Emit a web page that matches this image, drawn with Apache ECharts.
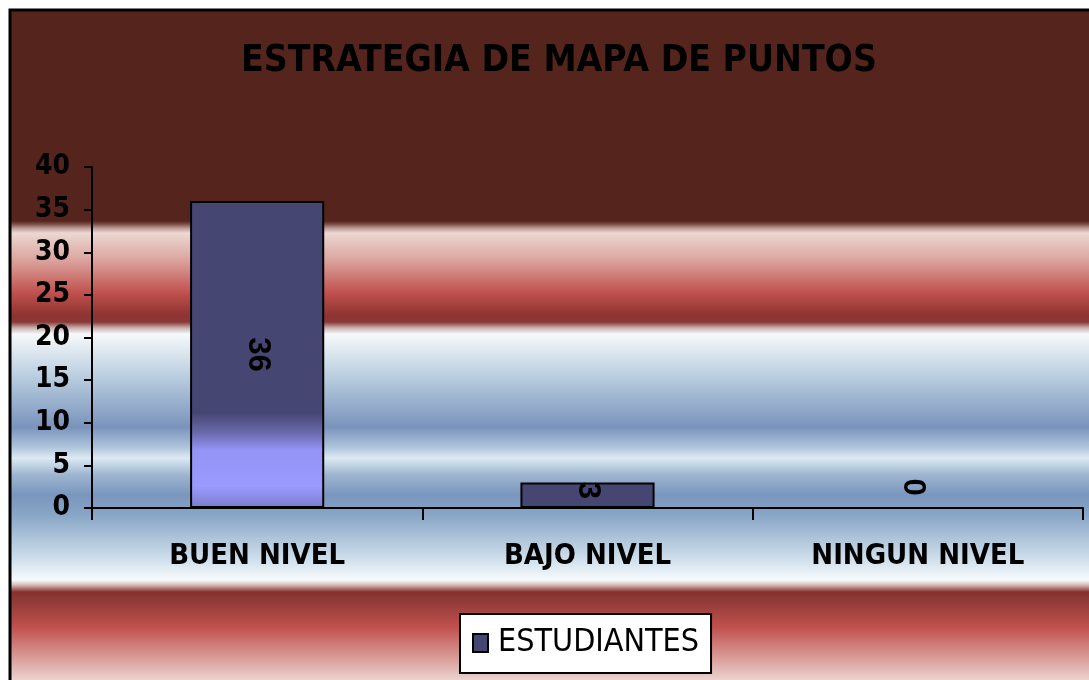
<!DOCTYPE html>
<html>
<head>
<meta charset="utf-8">
<script src="https://cdn.jsdelivr.net/npm/echarts@6/dist/echarts.min.js"></script>
<style>
html,body{margin:0;padding:0;background:#fff;}
#chart{width:1089px;height:680px;}
</style>
</head>
<body>
<div id="chart"></div>
<script>
const title = 'ESTRATEGIA DE MAPA DE PUNTOS';
const categories = ['BUEN NIVEL', 'BAJO NIVEL', 'NINGUN NIVEL'];
const seriesName = 'ESTUDIANTES';
const values = [36, 3, 0];
const yMin = 0, yMax = 40, yInterval = 5;

const NARROW = "'Liberation Sans Narrow', 'DejaVu Sans Condensed', 'Liberation Sans', sans-serif";
const WIDE = "'Liberation Sans', Arial, sans-serif";
const barColor = '#464673';

const chart = echarts.init(document.getElementById('chart'));

function stop(y, c) { return { offset: (y - 10) / 670, color: c }; }
const bgGradient = new echarts.graphic.LinearGradient(0, 0, 0, 1, [
  stop(10, '#55251d'), stop(221, '#55251d'), stop(224, '#7a4a44'), stop(228, '#b89892'),
  stop(233, '#ecd8d2'), stop(260, '#dba49e'), stop(293, '#c0504d'), stop(315, '#8e3432'),
  stop(322, '#8a3836'), stop(328, '#c8b2b0'), stop(334, '#f6f9fb'), stop(380, '#b5cadd'),
  stop(427, '#7a93bc'), stop(447, '#adc4da'), stop(458, '#dde9f3'), stop(475, '#9db5d0'),
  stop(495, '#7a96be'), stop(515, '#88a6c6'), stop(560, '#d0e0ec'), stop(580, '#f8fafc'),
  stop(585, '#d6bcb8'), stop(592, '#86302d'), stop(600, '#8f3a37'), stop(627, '#c0504d'),
  stop(680, '#ebd3ce')
]);

const firstBarGradient = new echarts.graphic.LinearGradient(0, 0, 0, 1, [
  { offset: 0, color: barColor }, { offset: 0.69, color: barColor },
  { offset: 0.76, color: '#6d6db0' }, { offset: 0.81, color: '#9494f6' },
  { offset: 0.93, color: '#9a9aff' }, { offset: 1, color: '#7c7ccc' }
]);

const labelBase = { show: true, rotate: -90, color: '#000', fontFamily: WIDE, fontWeight: 'bold', fontSize: 31, align: 'center', verticalAlign: 'middle' };
const labelPos = [{ position: 'inside' }, { position: ['50%', 8] }, { position: ['46%', -20] }];

const data = values.map((v, i) => ({
  value: v,
  itemStyle: i === 0 ? { color: firstBarGradient } : {},
  label: Object.assign({}, labelBase, labelPos[i])
}));

chart.setOption({
  animation: false,
  backgroundColor: '#ffffff',
  graphic: [{
    type: 'rect', z: -100, silent: true,
    shape: { x: 10, y: 10, width: 1100, height: 670 },
    style: { fill: bgGradient }
  }, {
    type: 'polyline', z: -99, silent: true,
    shape: { points: [[10, 690], [10, 10], [1100, 10]] },
    style: { fill: null, stroke: '#000', lineWidth: 3 }
  }],
  title: {
    text: title, left: 241, top: 43, padding: 0,
    textStyle: { fontFamily: NARROW, fontWeight: 'bold', fontSize: 37, color: '#000' }
  },
  legend: {
    left: 460, top: 614, padding: [13, 12, 14, 12],
    backgroundColor: '#ffffff', borderColor: '#000', borderWidth: 2, borderRadius: 0,
    icon: 'rect', itemWidth: 15, itemHeight: 18, itemGap: 10,
    textStyle: { fontFamily: NARROW, fontSize: 32, color: '#000', padding: [0, 0, 0, 5] },
    itemStyle: { color: barColor, borderColor: '#000', borderWidth: 2 },
    data: [seriesName]
  },
  grid: { left: 92, right: 6, top: 167, bottom: 172, containLabel: false },
  xAxis: {
    type: 'category', data: categories, boundaryGap: true,
    axisLine: { lineStyle: { color: '#000', width: 2 } },
    axisTick: { show: true, length: 12, lineStyle: { color: '#000', width: 2 } },
    axisLabel: { margin: 34, color: '#000', fontFamily: NARROW, fontWeight: 'bold', fontSize: 29, interval: 0 }
  },
  yAxis: {
    type: 'value', min: yMin, max: yMax, interval: yInterval,
    axisLine: { show: true, lineStyle: { color: '#000', width: 2 } },
    axisTick: { show: true, length: 8, lineStyle: { color: '#000', width: 2 } },
    splitLine: { show: false },
    axisLabel: { margin: 22, color: '#000', fontFamily: NARROW, fontWeight: 'bold', fontSize: 28 }
  },
  series: [{
    name: seriesName, type: 'bar', data: data, barWidth: '40.6%',
    itemStyle: { color: barColor, borderColor: '#000', borderWidth: 2 }
  }]
});
</script>
</body>
</html>
